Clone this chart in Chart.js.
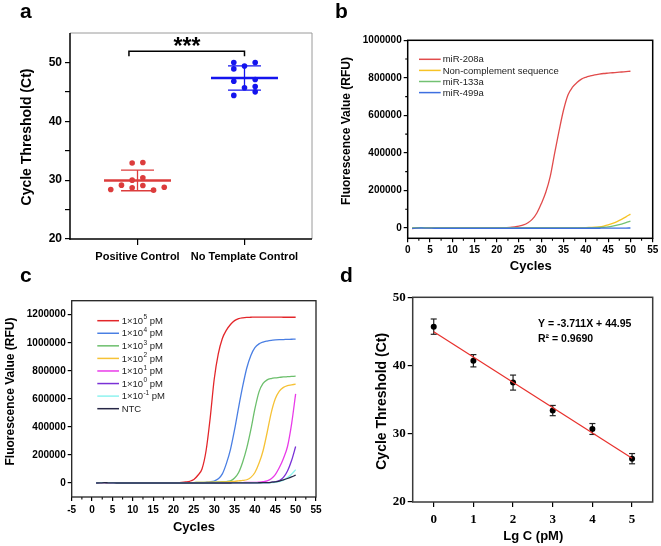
<!DOCTYPE html>
<html><head><meta charset="utf-8">
<script src="https://cdn.jsdelivr.net/npm/chart.js@4.4.1/dist/chart.umd.min.js"></script>
<style>
html,body{margin:0;padding:0;background:#fff;}
#wrap{position:relative;width:661px;height:546px;overflow:hidden;background:#fff;}
.pane{position:absolute;}
.pane canvas{display:block;}
.lbl{position:absolute;font:bold 21px "Liberation Sans",Arial,sans-serif;color:#000;line-height:21px;}
</style></head><body>
<div id="wrap">
  <div class="pane" style="left:0;top:0;width:330px;height:273px"><canvas id="ca" width="330" height="273"></canvas></div>
  <div class="pane" style="left:330px;top:0;width:331px;height:273px"><canvas id="cb" width="331" height="273"></canvas></div>
  <div class="pane" style="left:0;top:273px;width:330px;height:273px"><canvas id="cc" width="330" height="273"></canvas></div>
  <div class="pane" style="left:330px;top:273px;width:331px;height:273px"><canvas id="cd" width="331" height="273"></canvas></div>
  <div class="lbl" style="left:20px;top:0px">a</div>
  <div class="lbl" style="left:335px;top:0px">b</div>
  <div class="lbl" style="left:20px;top:264px">c</div>
  <div class="lbl" style="left:340px;top:264px">d</div>
</div>
<script>
// ================= DATA =================
// Panel a
const aGroups = ['Positive Control', 'No Template Control'];
const aYTicks = [20, 25, 30, 35, 40, 45, 50];
const pcCt = [28.4, 29.15, 32.9, 33.0, 30.0, 30.4, 28.7, 29.1, 28.3, 28.8];
const pcJitter = [-0.25, -0.15, -0.05, 0.05, -0.05, 0.05, -0.05, 0.05, 0.15, 0.25];
const ntcCt = [50.0, 50.0, 48.9, 49.4, 46.8, 47.1, 45.7, 45.9, 45.0, 44.4];
const ntcJitter = [-0.1, 0.1, -0.1, 0, -0.1, 0.1, 0, 0.1, 0.1, -0.1];
const aMean = [29.95, 47.35];
const aSD = [1.75, 2.05];
const aSignif = '***';

// Panels b and c share the cycle axis
const cycles = [1,2,3,4,5,6,7,8,9,10,11,12,13,14,15,16,17,18,19,20,21,22,23,24,25,26,27,28,29,30,31,32,33,34,35,36,37,38,39,40,41,42,43,44,45,46,47,48,49,50];

// Panel b
const bNames = ['miR-208a', 'Non-complement sequence', 'miR-133a', 'miR-499a'];
const bXTicks = [0,5,10,15,20,25,30,35,40,45,50,55];
const bXMinor = [2.5,7.5,12.5,17.5,22.5,27.5,32.5,37.5,42.5,47.5,52.5];
const bYTicks = [0,200000,400000,600000,800000,1000000];
const bYMinor = [100000,300000,500000,700000,900000];
const b208 = [-3000,1000,2000,1500,1000,500,0,0,0,0,
              0,0,0,0,0,0,500,500,1000,1000,
              1500,2000,3000,6000,10000,16000,28000,47000,80000,130000,
              190000,275000,400000,520000,630000,710000,750000,775000,793000,803000,
              810000,816000,820000,823000,825000,827000,829000,831000,833000,835000];
const bNonComp = [0,1000,1500,1000,500,0,0,0,0,0,
                  0,0,0,0,0,0,0,0,0,0,
                  0,0,0,0,500,500,500,500,500,500,
                  500,500,500,500,1000,1000,1000,1000,1500,2000,
                  3000,4000,6000,10000,16000,24000,34000,46000,59000,74000];
const b133 = [0,1000,1500,1000,500,0,0,0,0,0,
              0,0,0,0,0,0,0,0,0,0,
              0,0,0,0,0,0,0,0,0,0,
              0,0,0,0,500,500,500,500,1000,1000,
              1500,2000,3000,4000,6000,10000,15000,21000,28000,36000];
const b499 = [-2000,-1000,0,-500,-1000,-1500,-1500,-1500,-1500,-1500,
              -1500,-1500,-1500,-1500,-1500,-1500,-1500,-1500,-1500,-1500,
              -1500,-1500,-1500,-1500,-1500,-1500,-1500,-1500,-1500,-1500,
              -1500,-1500,-1500,-1500,-1500,-1500,-1500,-1500,-1500,-1500,
              -1500,-1500,-1500,-1000,-1000,-1000,-1000,-500,-500,0];

// Panel c
const cExps = ['5','4','3','2','1','0','-1', null];
const cNTCName = 'NTC';
const cXTicks = [-5,0,5,10,15,20,25,30,35,40,45,50,55];
const cXMinor = [-2.5,2.5,7.5,12.5,17.5,22.5,27.5,32.5,37.5,42.5,47.5,52.5];
const cYTicks = [0,200000,400000,600000,800000,1000000,1200000];
const c1e5 = [0,2000,3000,2000,1000,0,0,0,0,0,
              0,0,0,0,0,0,500,1000,1000,1500,
              2000,4000,7000,12000,25000,55000,100000,230000,460000,740000,
              920000,1030000,1090000,1130000,1158000,1172000,1178000,1181000,1182000,1183000,
              1183000,1183000,1183000,1183000,1183000,1183000,1182000,1182000,1182000,1182000];
const c1e4 = [0,2000,3000,2000,1000,0,0,0,0,0,
              0,0,0,0,0,0,0,500,500,500,
              1000,1000,1500,1500,2000,2000,3000,5000,8000,14000,
              30000,65000,140000,240000,380000,540000,690000,820000,910000,965000,
              992000,1005000,1012000,1017000,1020000,1022000,1023000,1024000,1025000,1026000];
const c1e3 = [0,2000,3000,2000,1000,0,0,0,0,0,
              0,0,0,0,0,0,0,500,500,500,
              1000,1500,2000,2500,3000,3500,4000,4500,5000,5500,
              7000,9000,10000,15000,35000,75000,150000,250000,380000,530000,
              650000,710000,735000,745000,750000,753000,756000,758000,760000,762000];
const c1e2 = [0,2000,3000,2000,1000,0,0,0,0,0,
              0,0,0,0,0,0,0,0,500,500,
              500,1000,1500,2000,3000,3500,4000,5000,5500,6000,
              6500,7000,8000,10000,12000,15000,18000,23000,40000,75000,
              140000,230000,360000,500000,600000,655000,682000,695000,700000,705000];
const c1e1 = [0,2000,3000,2000,1000,0,0,0,0,0,
              0,0,0,0,0,0,0,0,0,0,
              500,500,500,1000,1000,1000,1000,1500,1500,1500,
              2000,2000,2000,2500,2500,3000,3000,3500,3500,4000,
              6000,9000,15000,30000,60000,110000,175000,260000,420000,635000];
const c1e0 = [0,2000,3000,2000,1000,0,0,0,0,0,
              0,0,0,0,0,0,0,0,0,0,
              0,0,0,500,500,500,500,500,500,500,
              1000,1000,1000,1000,1000,1000,1000,1500,1500,1500,
              2000,2500,3000,5000,9000,18000,40000,85000,160000,260000];
const c1em1 = [0,2000,3000,2000,1000,0,0,0,0,0,
               0,0,0,0,0,0,0,0,0,0,
               0,0,0,0,0,0,0,0,0,0,
               500,500,500,500,500,500,500,1000,1000,1000,
               1000,1500,1500,2000,5000,10000,20000,38000,62000,95000];
const cNTC = [0,1000,2000,1000,500,0,0,0,0,0,
              0,0,0,0,0,0,0,0,0,0,
              0,0,0,0,0,0,0,0,0,0,
              0,0,0,0,500,500,500,500,1000,1000,
              1500,2000,3000,5000,8000,14000,22000,32000,43000,56000];

// Panel d
const dLgC = [0, 1, 2, 3, 4, 5];
const dCt = [45.7, 40.7, 37.5, 33.4, 30.7, 26.35];
const dErr = [1.12, 0.9, 1.1, 0.75, 0.8, 0.75];
const dFitX = [0, 5];
const dFitY = [44.95, 26.40];
const dXTicks = [0, 1, 2, 3, 4, 5];
const dYTicks = [20, 30, 40, 50];
const dEq = 'Y = -3.711X + 44.95';
const dR2 = 'R² = 0.9690';

// ================= HELPERS =================
const F = '"Liberation Sans", Arial, Helvetica, sans-serif';
const FS = '"Liberation Serif", "Times New Roman", serif';
Chart.defaults.font.family = F;
Chart.defaults.color = '#000';

function txt(ctx, s, x, y, font, o) {
  o = o || {};
  ctx.save();
  ctx.font = font; ctx.fillStyle = o.color || '#000';
  ctx.textAlign = o.align || 'center'; ctx.textBaseline = o.base || 'middle';
  ctx.translate(x, y); if (o.rot) ctx.rotate(o.rot);
  ctx.fillText(s, 0, 0);
  ctx.restore();
}
function axX(o) {
  return {
    type: 'linear', position: 'bottom', min: o.min, max: o.max,
    afterFit(s) { s.height = o.h; },
    afterBuildTicks(s) { s.ticks = o.ticks.map(v => ({ value: v })); },
    grid: { display: true, drawOnChartArea: false, drawTicks: true, tickLength: o.tl, color: '#000', lineWidth: 1.2 },
    border: { display: false },
    ticks: { padding: o.pad, font: o.font, color: '#000', maxRotation: 0, minRotation: 0, autoSkip: false,
             callback: o.cb || (v => String(v)) }
  };
}
function axY(o) {
  return {
    type: 'linear', position: 'left', min: o.min, max: o.max,
    afterFit(s) { s.width = o.w; },
    afterBuildTicks(s) { s.ticks = o.ticks.map(v => ({ value: v })); },
    grid: { display: true, drawOnChartArea: false, drawTicks: true, tickLength: o.tl, color: '#000', lineWidth: 1.2 },
    border: { display: false },
    ticks: { padding: o.pad, font: o.font, color: '#000', autoSkip: false,
             callback: o.cb || (v => String(v)) }
  };
}
function decor(o) {
  return {
    id: 'decor',
    beforeDatasetsDraw(chart) { if (o.under) { const c = chart.ctx; c.save(); o.under(chart); c.restore(); } },
    afterDraw(chart) {
      const ctx = chart.ctx, a = chart.chartArea, sc = chart.scales;
      ctx.save();
      (o.minor || []).forEach(m => {
        const s = sc[m.axis];
        ctx.strokeStyle = '#000'; ctx.lineWidth = 1.1; ctx.beginPath();
        m.values.forEach(v => {
          const p = s.getPixelForValue(v);
          if (m.axis === 'x') { ctx.moveTo(p, a.bottom); ctx.lineTo(p, a.bottom + m.len); }
          else { ctx.moveTo(a.left, p); ctx.lineTo(a.left - m.len, p); }
        });
        ctx.stroke();
      });
      if (o.box) o.box(ctx, a);
      if (o.over) o.over(chart);
      ctx.restore();
    }
  };
}
function line(ctx, x1, y1, x2, y2) { ctx.beginPath(); ctx.moveTo(x1, y1); ctx.lineTo(x2, y2); ctx.stroke(); }
function curve(vals, color) {
  return { type: 'line', data: vals.map((v, i) => ({ x: cycles[i], y: v })), borderColor: color,
           borderWidth: 1.3, pointRadius: 0, cubicInterpolationMode: 'monotone', fill: false };
}
const base = (pad) => ({ responsive: false, animation: false, devicePixelRatio: 1,
  layout: { padding: pad }, plugins: { legend: { display: false }, tooltip: { enabled: false } } });

// ================= PANEL A =================
const aRed = '#dc3c3c', aBlue = '#1414ee';
new Chart(document.getElementById('ca'), {
  type: 'scatter',
  data: { datasets: [
    { data: pcCt.map((y, i) => ({ x: 0 + pcJitter[i], y })), backgroundColor: aRed, borderWidth: 0, pointRadius: 2.8 },
    { data: ntcCt.map((y, i) => ({ x: 1 + ntcJitter[i], y })), backgroundColor: aBlue, borderWidth: 0, pointRadius: 2.8 }
  ]},
  options: Object.assign(base({ top: 33, right: 18, left: 0, bottom: 0 }), {
    scales: {
      x: axX({ min: -0.631, max: 1.631, h: 34, ticks: [0, 1], tl: 6, pad: 5, font: { size: 11, weight: 'bold' }, cb: v => aGroups[v] }),
      y: axY({ min: 20, max: 55, w: 70, ticks: aYTicks, tl: 5, pad: 3, font: { size: 12, weight: 'bold' }, cb: v => (v % 10 === 0 ? String(v) : '') })
    }
  }),
  plugins: [decor({
    under(chart) {
      const ctx = chart.ctx, xs = chart.scales.x, ys = chart.scales.y;
      [[0, aRed], [1, aBlue]].forEach(([g, col]) => {
        const m = aMean[g], sd = aSD[g];
        ctx.strokeStyle = col;
        ctx.lineWidth = 1.3;
        line(ctx, xs.getPixelForValue(g), ys.getPixelForValue(m - sd), xs.getPixelForValue(g), ys.getPixelForValue(m + sd));
        line(ctx, xs.getPixelForValue(g - 0.154), ys.getPixelForValue(m + sd), xs.getPixelForValue(g + 0.154), ys.getPixelForValue(m + sd));
        line(ctx, xs.getPixelForValue(g - 0.154), ys.getPixelForValue(m - sd), xs.getPixelForValue(g + 0.154), ys.getPixelForValue(m - sd));
        ctx.lineWidth = 2.5;
        line(ctx, xs.getPixelForValue(g - 0.313), ys.getPixelForValue(m), xs.getPixelForValue(g + 0.313), ys.getPixelForValue(m));
      });
    },
    box(ctx, a) {
      ctx.strokeStyle = '#9a9a9a'; ctx.lineWidth = 1;
      line(ctx, a.left, a.top, a.right, a.top); line(ctx, a.right, a.top, a.right, a.bottom);
      ctx.strokeStyle = '#000'; ctx.lineWidth = 1.5;
      line(ctx, a.left, a.top, a.left, a.bottom + 0.75); line(ctx, a.left - 0.75, a.bottom, a.right, a.bottom);
    },
    over(chart) {
      const ctx = chart.ctx, xs = chart.scales.x, ys = chart.scales.y;
      const x1 = xs.getPixelForValue(-0.08), x2 = xs.getPixelForValue(1.0);
      const yt = ys.getPixelForValue(51.9), yb = ys.getPixelForValue(51.05);
      ctx.strokeStyle = '#000'; ctx.lineWidth = 1.5;
      ctx.beginPath(); ctx.moveTo(x1, yb); ctx.lineTo(x1, yt); ctx.lineTo(x2, yt); ctx.lineTo(x2, yb); ctx.stroke();
      txt(ctx, aSignif, xs.getPixelForValue(0.463), yt + 2.5, 'bold 23px ' + F, { base: 'alphabetic' });
      txt(ctx, 'Cycle Threshold (Ct)', 27, 137, 'bold 14px ' + F, { rot: -Math.PI / 2 });
    }
  })]
});

// ================= PANEL B =================
const bColors = ['#e14b4b', '#f7c325', '#72c172', '#3d6fe0'];
new Chart(document.getElementById('cb'), {
  type: 'line',
  data: { datasets: [curve(b499, bColors[3]), curve(b133, bColors[2]), curve(bNonComp, bColors[1]), curve(b208, bColors[0])] },
  options: Object.assign(base({ top: 40.3, right: 8.3, left: 0, bottom: 0 }), {
    scales: {
      x: axX({ min: 0, max: 55, h: 34.7, ticks: bXTicks, tl: 4, pad: 2, font: { size: 10, weight: 'bold' } }),
      y: axY({ min: -55000, max: 1000000, w: 77.7, ticks: bYTicks, tl: 4, pad: 2, font: { size: 10, weight: 'bold' } })
    }
  }),
  plugins: [decor({
    minor: [{ axis: 'x', values: bXMinor, len: 2.5 }, { axis: 'y', values: bYMinor, len: 2.5 }],
    box(ctx, a) { ctx.strokeStyle = '#000'; ctx.lineWidth = 1.5; ctx.strokeRect(a.left, a.top, a.right - a.left, a.bottom - a.top); },
    over(chart) {
      const ctx = chart.ctx;
      ctx.font = '9.5px ' + F; ctx.textBaseline = 'middle'; ctx.textAlign = 'left';
      bNames.forEach((n, i) => {
        const y = 59.3 + i * 11.1;
        ctx.strokeStyle = bColors[i]; ctx.lineWidth = 1.5; line(ctx, 89, y, 110.7, y);
        ctx.fillStyle = '#222'; ctx.fillText(n, 112.7, y + 0.5);
      });
      txt(ctx, 'Fluorescence Value (RFU)', 17, 131, 'bold 12px ' + F, { rot: -Math.PI / 2 });
      txt(ctx, 'Cycles', 200.8, 266.5, 'bold 13px ' + F);
    }
  })]
});

// ================= PANEL C =================
const cColors = ['#e3262a', '#4a7fe3', '#6cbf6c', '#f6c236', '#e93be9', '#7a31d6', '#8ff3ef', '#272746'];
const cSeries = [c1e5, c1e4, c1e3, c1e2, c1e1, c1e0, c1em1, cNTC];
new Chart(document.getElementById('cc'), {
  type: 'line',
  data: { datasets: cSeries.map((s, i) => curve(s, cColors[i])).reverse() },
  options: Object.assign(base({ top: 27.7, right: 14, left: 0, bottom: 0 }), {
    scales: {
      x: axX({ min: -5, max: 55, h: 49, ticks: cXTicks, tl: 4, pad: 3, font: { size: 10, weight: 'bold' } }),
      y: axY({ min: -100000, max: 1300000, w: 71.7, ticks: cYTicks, tl: 4, pad: 2, font: { size: 10, weight: 'bold' } })
    }
  }),
  plugins: [decor({
    minor: [{ axis: 'x', values: cXMinor, len: 2.5 }],
    box(ctx, a) { ctx.strokeStyle = '#222'; ctx.lineWidth = 1.3; ctx.strokeRect(a.left, a.top, a.right - a.left, a.bottom - a.top); },
    over(chart) {
      const ctx = chart.ctx;
      ctx.textBaseline = 'middle'; ctx.textAlign = 'left';
      cExps.forEach((e, i) => {
        const y = 47.7 + i * 12.57;
        ctx.strokeStyle = cColors[i]; ctx.lineWidth = 1.5; line(ctx, 97.3, y, 119, y);
        ctx.fillStyle = '#222';
        let x = 121.7;
        ctx.font = '9.5px ' + F;
        if (e === null) { ctx.fillText(cNTCName, x, y + 0.5); return; }
        ctx.fillText('1×10', x, y + 0.5); x += ctx.measureText('1×10').width + 0.3;
        ctx.font = '6.5px ' + F; ctx.fillText(e, x, y - 3); x += ctx.measureText(e).width;
        ctx.font = '9.5px ' + F; ctx.fillText(' pM', x, y + 0.5);
      });
      txt(ctx, 'Fluorescence Value (RFU)', 11, 118.5, 'bold 12px ' + F, { rot: -Math.PI / 2 });
      txt(ctx, 'Cycles', 193.9, 254.5, 'bold 13px ' + F);
    }
  })]
});

// ================= PANEL D =================
new Chart(document.getElementById('cd'), {
  type: 'scatter',
  data: { datasets: [
    { type: 'line', data: dFitX.map((x, i) => ({ x, y: dFitY[i] })), borderColor: '#e8302c', borderWidth: 1.2, pointRadius: 0, fill: false },
    { data: dLgC.map((x, i) => ({ x, y: dCt[i] })), backgroundColor: '#000', borderWidth: 0, pointRadius: 3 }
  ]},
  options: Object.assign(base({ top: 24.3, right: 8.3, left: 0, bottom: 0 }), {
    scales: {
      x: axX({ min: -0.53, max: 5.52, h: 44, ticks: dXTicks, tl: 5, pad: 5, font: { family: FS, size: 13, weight: 'bold' } }),
      y: axY({ min: 20, max: 50, w: 82.7, ticks: dYTicks, tl: 5, pad: 2, font: { family: FS, size: 13, weight: 'bold' } })
    }
  }),
  plugins: [decor({
    under(chart) {
      const ctx = chart.ctx, xs = chart.scales.x, ys = chart.scales.y;
      ctx.strokeStyle = '#222'; ctx.lineWidth = 1.2;
      dLgC.forEach((x, i) => {
        const px = xs.getPixelForValue(x), t = ys.getPixelForValue(dCt[i] + dErr[i]), b = ys.getPixelForValue(dCt[i] - dErr[i]);
        const c1 = xs.getPixelForValue(x - 0.076), c2 = xs.getPixelForValue(x + 0.076);
        line(ctx, px, t, px, b); line(ctx, c1, t, c2, t); line(ctx, c1, b, c2, b);
      });
    },
    box(ctx, a) { ctx.strokeStyle = '#3a3a3a'; ctx.lineWidth = 1.5; ctx.strokeRect(a.left, a.top, a.right - a.left, a.bottom - a.top); },
    over(chart) {
      const ctx = chart.ctx;
      txt(ctx, dEq, 208, 53.7, 'bold 10.5px ' + F, { align: 'left', base: 'alphabetic' });
      txt(ctx, dR2, 208, 68.7, 'bold 10.5px ' + F, { align: 'left', base: 'alphabetic' });
      txt(ctx, 'Cycle Threshold (Ct)', 51.7, 128.3, 'bold 14px ' + F, { rot: -Math.PI / 2 });
      txt(ctx, 'Lg C (pM)', 203.3, 266.5, 'bold 13px ' + F, { base: 'alphabetic' });
    }
  })]
});
</script>
</body></html>
